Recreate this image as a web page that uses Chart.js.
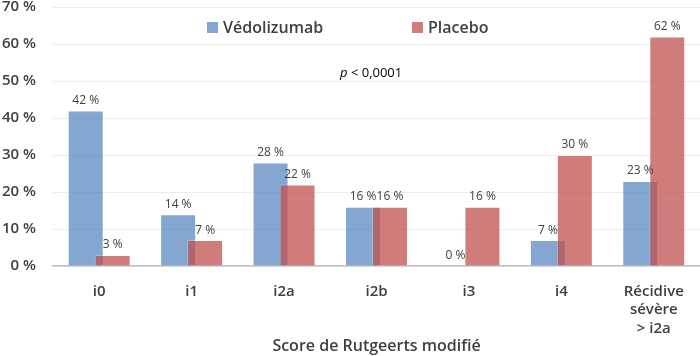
<!DOCTYPE html>
<html>
<head>
<meta charset="utf-8">
<script src="https://cdn.jsdelivr.net/npm/chart.js@4"></script>
<style>
html,body{margin:0;padding:0;background:#fff;}
#wrap{width:700px;height:356px;position:relative;}
</style>
</head>
<body>
<div id="wrap"><canvas id="c"></canvas></div>
<script>
const categories = ["i0", "i1", "i2a", "i2b", "i3", "i4", ["Récidive", "sévère", "> i2a"]];
const vedolizumab = [42, 14, 28, 16, 0, 7, 23];
const placebo = [3, 7, 22, 16, 16, 30, 62];
const seriesNames = ["Védolizumab", "Placebo"];
const yTicks = [0, 10, 20, 30, 40, 50, 60, 70];
const xTitle = "Score de Rutgeerts modifié";
const annotation = { italic: "p", rest: " < 0,0001" };

const FONT = "'Open Sans', 'DejaVu Sans', sans-serif";
const TEXT = "#404040";
const BLUE = "rgba(79,129,189,0.7)";
const RED = "rgba(192,80,77,0.75)";

// draw datasets in index order so the second series (Placebo) lies over the first
const drawOrder = {
  id: "drawOrder",
  beforeDatasetsDraw(chart) {
    chart.data.datasets.forEach((ds, i) => {
      const meta = chart.getDatasetMeta(i);
      if (meta.visible !== false) meta.controller.draw();
    });
    return false;
  }
};

const overlay = {
  id: "overlay",
  afterDraw(chart) {
    const ctx = chart.ctx;
    ctx.save();
    // value labels
    ctx.font = "12px " + FONT;
    ctx.fillStyle = TEXT;
    ctx.textAlign = "center";
    ctx.textBaseline = "middle";
    chart.data.datasets.forEach((ds, i) => {
      const meta = chart.getDatasetMeta(i);
      meta.data.forEach((bar, j) => {
        ctx.fillText(ds.data[j] + " %", bar.x, bar.y - 10);
      });
    });
    // legend
    const items = [{x: 207}, {x: 412}];
    chart.data.datasets.forEach((ds, i) => {
      const x = items[i].x, y = 28;
      ctx.fillStyle = ds.backgroundColor;
      ctx.fillRect(x, y - 6, 11, 11);
      ctx.fillStyle = TEXT;
      ctx.font = "600 16px " + FONT;
      ctx.textAlign = "left";
      ctx.textBaseline = "middle";
      ctx.fillText(ds.label, x + 16, y);
    });
    // p-value
    const nx = 340, ny = 73;
    ctx.fillStyle = "#000";
    ctx.textBaseline = "middle";
    ctx.textAlign = "left";
    ctx.font = "italic 13px " + FONT;
    ctx.fillText(annotation.italic, nx, ny);
    const w = ctx.measureText(annotation.italic).width;
    ctx.font = "13px " + FONT;
    ctx.fillText(annotation.rest, nx + w, ny);
    ctx.restore();
  }
};

new Chart(document.getElementById("c"), {
  type: "bar",
  data: {
    labels: categories,
    datasets: [
      { label: seriesNames[0], data: vedolizumab, backgroundColor: BLUE, borderColor: "rgba(255,255,255,0.15)", borderWidth: 1,
        categoryPercentage: 0.584, barPercentage: 1.333 },
      { label: seriesNames[1], data: placebo, backgroundColor: RED, borderColor: "rgba(255,255,255,0.25)", borderWidth: 1,
        categoryPercentage: 0.584, barPercentage: 1.333 }
    ]
  },
  options: {
    responsive: true,
    maintainAspectRatio: false,
    animation: false,
    layout: { padding: { top: 7, right: 0, left: 0, bottom: 0 } },
    plugins: {
      legend: { display: false },
      tooltip: { enabled: false }
    },
    scales: {
      x: {
        afterFit(scale) { scale.height = 90; scale.paddingLeft = 0; scale.paddingRight = 0; },
        grid: { display: false },
        border: { color: "#bfbfbf", width: 1.5 },
        ticks: { color: TEXT, font: { family: FONT, size: 15, weight: "600", lineHeight: 1.25 }, padding: 8, maxRotation: 0, autoSkip: false },
        title: { display: true, text: xTitle, color: TEXT, font: { family: FONT, size: 16, weight: "600" }, padding: { top: 0, bottom: 0 } }
      },
      y: {
        min: 0, max: 70,
        afterBuildTicks(scale) { scale.ticks = yTicks.map(v => ({ value: v })); },
        afterFit(scale) { scale.width = 53; scale.paddingTop = 0; scale.paddingBottom = 0; },
        grid: { color: "#ececec", drawTicks: false },
        border: { display: false },
        ticks: { color: TEXT, font: { family: FONT, size: 15, weight: "600" }, padding: 17,
          callback: v => v + " %" }
      }
    }
  },
  plugins: [drawOrder, overlay]
});
</script>
</body>
</html>
